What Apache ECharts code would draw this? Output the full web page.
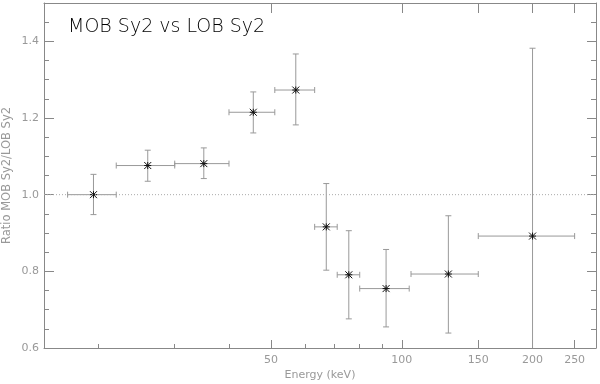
<!DOCTYPE html>
<html>
<head>
<meta charset="utf-8">
<script src="https://cdn.jsdelivr.net/npm/echarts@6/dist/echarts.min.js"></script>
<style>
  html, body { margin: 0; padding: 0; background: #fff; }
  #chart { width: 600px; height: 384px; }
</style>
</head>
<body>
<div id="chart"></div>
<script>
// bins (keV) and measured ratio
var energy  = [19.5, 26, 35, 45.5, 57, 67, 75.5, 92, 128, 200];
var binLow  = [17, 22, 30, 40, 51, 63, 71, 80, 105, 150];
var binHigh = [22, 30, 40, 51, 63, 71, 80, 104, 150, 250];
var ratio   = [1.0, 1.076, 1.081, 1.215, 1.273, 0.916, 0.791, 0.755, 0.793, 0.892];
var errLow  = [0.948, 1.035, 1.042, 1.161, 1.182, 0.803, 0.676, 0.655, 0.639, 0.45];
var errHigh = [1.053, 1.116, 1.122, 1.268, 1.367, 1.029, 0.906, 0.857, 0.945, 1.382];

var xMajor = [50, 100, 150, 200, 250];
var xMinor = [20, 30, 40, 60, 70, 80, 90];
var yMajor = [0.6, 0.8, 1.0, 1.2, 1.4];
var yMinor = [0.65, 0.7, 0.75, 0.85, 0.9, 0.95, 1.05, 1.1, 1.15, 1.25, 1.3, 1.35, 1.45];

var lg = Math.log10;
var xMin = lg(15), xMax = lg(280);
var gray = '#888';
var txt = '#999';
var font = 'DejaVu Sans';

var rows = energy.map(function (e, i) {
    return [lg(e), ratio[i], lg(binLow[i]), lg(binHigh[i]), errLow[i], errHigh[i]];
});

function xAx(pos, ticks, len, showLine, labels) {
    return {
        type: 'value', position: pos, min: xMin, max: xMax,
        splitLine: { show: false },
        axisLine: { show: showLine, lineStyle: { color: gray, width: 1 } },
        axisTick: { inside: true, length: len, customValues: ticks.map(lg), lineStyle: { color: gray } },
        axisLabel: labels ? {
            customValues: ticks.map(lg), color: txt, fontSize: 11, fontFamily: font, margin: 7,
            hideOverlap: false,
            formatter: function (v) { return Math.round(Math.pow(10, v)); }
        } : { show: false }
    };
}
function yAx(pos, ticks, len, showLine, labels) {
    return {
        type: 'value', position: pos, min: 0.6, max: 1.5,
        splitLine: { show: false },
        axisLine: { show: showLine, lineStyle: { color: gray, width: 1 } },
        axisTick: { inside: true, length: len, customValues: ticks, lineStyle: { color: gray } },
        axisLabel: labels ? {
            customValues: ticks, color: txt, fontSize: 11, fontFamily: font, margin: 5,
            hideOverlap: false,
            formatter: function (v) { return v.toFixed(1); }
        } : { show: false }
    };
}

var xAxes = [
    xAx('bottom', xMajor, 8, true, true),
    xAx('bottom', xMinor, 4, false, false),
    xAx('top', xMajor, 10, true, false)
];
xAxes[0].name = 'Energy (keV)';
xAxes[0].nameLocation = 'middle';
xAxes[0].nameGap = 22;
xAxes[0].nameMoveOverlap = false;
xAxes[0].nameTextStyle = { color: txt, fontSize: 11, fontFamily: font };

var yAxes = [
    yAx('left', yMajor, 10, true, true),
    yAx('left', yMinor, 5, false, false),
    yAx('right', yMajor, 9, true, false),
    yAx('right', yMinor, 5, false, false)
];
yAxes[0].name = 'Ratio MOB Sy2/LOB Sy2';
yAxes[0].nameLocation = 'middle';
yAxes[0].nameGap = 31;
yAxes[0].nameMoveOverlap = false;
yAxes[0].nameTextStyle = { color: txt, fontSize: 11.5, fontFamily: font };

var chart = echarts.init(document.getElementById('chart'));
chart.setOption({
    animation: false,
    title: {
        text: 'MOB Sy2 vs LOB Sy2', left: 63, top: 13,
        textStyle: { color: '#000', fontSize: 19, fontWeight: 200, fontFamily: font }
    },
    grid: { left: 44, right: 4, top: 3, bottom: 36, outerBoundsMode: 'none' },
    xAxis: xAxes,
    yAxis: yAxes,
    series: [
        {
            type: 'line', data: [[xMin, 1], [xMax, 1]], symbol: 'none', silent: true,
            lineStyle: { color: '#aaa', width: 1, type: [1, 2] }
        },
        {
            type: 'custom', data: rows, clip: true,
            renderItem: function (params, api) {
                var c = api.coord([api.value(0), api.value(1)]);
                var l = api.coord([api.value(2), api.value(1)]);
                var r = api.coord([api.value(3), api.value(1)]);
                var t = api.coord([api.value(0), api.value(5)]);
                var b = api.coord([api.value(0), api.value(4)]);
                var bar = { stroke: '#999', lineWidth: 1 };
                var star = { stroke: '#111', lineWidth: 1 };
                function ln(x1, y1, x2, y2, st) {
                    return { type: 'line', shape: { x1: x1, y1: y1, x2: x2, y2: y2 }, style: st };
                }
                var s = 3.5;
                return {
                    type: 'group',
                    children: [
                        ln(l[0], c[1], r[0], c[1], bar),
                        ln(l[0], c[1] - 3, l[0], c[1] + 3, bar),
                        ln(r[0], c[1] - 3, r[0], c[1] + 3, bar),
                        ln(c[0], t[1], c[0], b[1], bar),
                        ln(c[0] - 3, t[1], c[0] + 3, t[1], bar),
                        ln(c[0] - 3, b[1], c[0] + 3, b[1], bar),
                        ln(c[0] - s, c[1] - s, c[0] + s, c[1] + s, star),
                        ln(c[0] - s, c[1] + s, c[0] + s, c[1] - s, star),
                        ln(c[0], c[1] - s, c[0], c[1] + s, star),
                        ln(c[0] - s, c[1], c[0] + s, c[1], star)
                    ]
                };
            }
        }
    ]
});
</script>
</body>
</html>
